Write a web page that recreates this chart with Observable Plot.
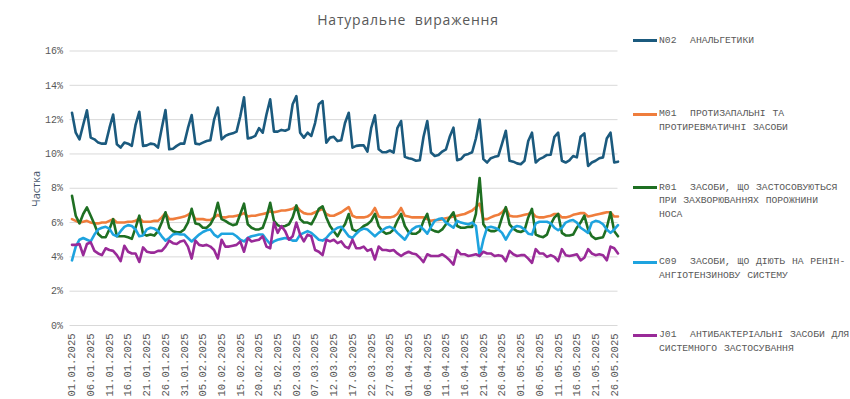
<!DOCTYPE html>
<html><head><meta charset="utf-8">
<script src="https://cdn.jsdelivr.net/npm/d3@7"></script>
<script src="https://cdn.jsdelivr.net/npm/@observablehq/plot@0.6"></script>
<style>
body{margin:0;background:#fff;}
#wrap{position:relative;width:850px;height:399px;overflow:hidden;}
#chart{position:absolute;left:0;top:0;}
#title{position:absolute;left:258px;width:300px;top:10px;text-align:center;font:14px "Open Sans",sans-serif;letter-spacing:0.8px;word-spacing:4px;color:#595959;}
#ylab{position:absolute;left:35px;top:189px;transform:translate(-50%,-50%) rotate(-90deg);font:11px "Open Sans",sans-serif;color:#44546a;white-space:nowrap;}
.sw{position:absolute;left:633px;width:24px;height:3px;}
.tx{position:absolute;left:659px;font:9.7px "Liberation Mono",monospace;line-height:13.6px;color:#595959;white-space:pre;word-spacing:1px;}
</style></head>
<body>
<div id="wrap">
  <div id="chart"></div>
  <div id="title">Натуральне вираження</div>
  <div id="ylab">Частка</div>
  <div id="legend"></div>
</div>
<script>
const startDate = "2025-01-01";
const xTickLabels = ["01.01.2025","06.01.2025","11.01.2025","16.01.2025","21.01.2025","26.01.2025","31.01.2025","05.02.2025","10.02.2025","15.02.2025","20.02.2025","25.02.2025","02.03.2025","07.03.2025","12.03.2025","17.03.2025","22.03.2025","27.03.2025","01.04.2025","06.04.2025","11.04.2025","16.04.2025","21.04.2025","26.04.2025","01.05.2025","06.05.2025","11.05.2025","16.05.2025","21.05.2025","26.05.2025"];
const yTicks = [0,2,4,6,8,10,12,14,16];
const seriesNames = ["N02  АНАЛЬГЕТИКИ","M01  ПРОТИЗАПАЛЬНІ ТА\nПРОТИРЕВМАТИЧНІ ЗАСОБИ","R01  ЗАСОБИ, ЩО ЗАСТОСОВУЮТЬСЯ\nПРИ ЗАХВОРЮВАННЯХ ПОРОЖНИНИ\nНОСА","C09  ЗАСОБИ, ЩО ДІЮТЬ НА РЕНІН-\nАНГІОТЕНЗИНОВУ СИСТЕМУ","J01  АНТИБАКТЕРІАЛЬНІ ЗАСОБИ ДЛЯ\nСИСТЕМНОГО ЗАСТОСУВАННЯ"];
const seriesColors = ["#1b5a7e","#ef7d3c","#1e6f22","#1ea3df","#992a98"];

const n02 = [
12.4,11.24,10.85,11.7,12.54,10.95,10.85,
10.66,10.6,10.6,11.5,12.3,10.56,10.37,
10.66,10.6,10.47,11.7,12.46,10.47,10.5,
10.6,10.56,10.37,11.5,12.56,10.27,10.3,
10.47,10.6,10.6,11.5,12.27,10.6,10.56,
10.66,10.75,10.8,12.0,12.7,10.85,11.05,
11.15,11.2,11.3,12.2,13.3,10.9,10.95,
11.05,11.5,11.24,12.3,13.18,11.3,11.3,
11.4,11.35,11.45,12.9,13.37,11.24,10.95,
11.24,11.05,11.8,12.9,13.08,10.66,10.95,
11.0,10.75,10.8,11.8,12.4,10.37,10.47,
10.5,10.5,10.14,11.5,12.25,10.27,10.1,
10.1,10.2,10.08,11.5,11.92,9.83,9.75,
9.7,9.6,9.63,11.0,11.92,10.08,9.88,
9.94,10.14,10.27,11.0,11.53,9.63,9.7,
9.94,10.0,10.1,10.9,12.0,9.7,9.5,
9.75,9.83,9.88,10.6,11.35,9.6,9.55,
9.45,9.4,9.6,10.75,11.24,9.5,9.7,
9.8,9.94,9.95,11.0,11.24,9.6,9.5,
9.63,9.88,9.8,11.0,11.2,9.3,9.5,
9.6,9.75,9.8,10.9,11.24,9.5,9.55];

const m01 = [
6.2,6.1,6.0,6.05,6.1,6.0,5.95,
5.95,6.0,6.0,6.1,6.2,6.0,6.0,
6.0,6.05,6.05,6.1,6.25,6.05,6.05,
6.05,6.1,6.1,6.3,6.55,6.2,6.2,
6.25,6.3,6.35,6.45,6.6,6.2,6.2,
6.2,6.15,6.15,6.3,6.45,6.3,6.3,
6.35,6.35,6.4,6.45,6.55,6.35,6.4,
6.4,6.45,6.5,6.55,6.65,6.6,6.65,
6.7,6.7,6.75,6.8,6.95,6.7,6.55,
6.5,6.5,6.6,6.7,6.8,6.5,6.4,
6.4,6.5,6.6,6.75,6.9,6.4,6.3,
6.3,6.3,6.35,6.5,6.85,6.35,6.3,
6.3,6.3,6.35,6.5,6.85,6.4,6.35,
6.3,6.3,6.3,6.3,6.2,6.1,6.15,
6.15,6.2,6.25,6.3,6.35,6.4,6.45,
6.5,6.6,6.7,6.9,7.1,6.2,6.2,
6.3,6.4,6.45,6.6,6.85,6.4,6.35,
6.35,6.4,6.45,6.5,6.6,6.35,6.3,
6.3,6.35,6.4,6.5,6.5,6.3,6.3,
6.35,6.45,6.5,6.55,6.55,6.35,6.4,
6.45,6.5,6.55,6.6,6.6,6.35,6.35];

const r01 = [
7.56,6.4,5.95,6.5,6.88,6.4,5.9,
5.33,5.14,5.14,5.6,6.2,5.2,5.2,
5.2,5.14,5.05,5.7,6.4,5.33,5.24,
5.3,5.24,5.5,6.0,6.6,5.7,5.5,
5.43,5.43,5.6,6.0,6.8,5.95,5.9,
5.7,5.7,5.9,6.3,7.15,6.2,6.1,
5.95,5.85,5.9,6.5,7.1,5.9,5.7,
5.6,5.6,5.7,6.3,7.15,6.1,5.85,
5.75,5.8,5.9,6.3,7.0,6.2,6.0,
6.0,5.9,6.3,6.8,6.95,6.3,5.8,
5.5,5.2,5.6,5.9,6.5,5.6,5.5,
5.6,5.8,5.9,6.1,6.5,5.8,5.5,
5.35,5.4,5.6,6.1,6.5,5.8,5.45,
5.35,5.35,5.5,6.1,6.5,5.6,5.5,
5.45,5.6,5.9,6.3,6.6,5.8,5.7,
5.7,5.75,5.75,6.5,8.6,5.9,5.6,
5.5,5.5,5.6,6.3,6.9,5.9,5.65,
5.5,5.45,5.55,6.3,6.8,5.3,5.2,
5.15,5.3,5.9,6.3,6.5,5.4,5.25,
5.25,5.3,5.7,6.0,6.4,5.6,5.2,
5.05,5.1,5.15,5.7,6.6,5.5,5.2];

const c09 = [
3.8,4.6,5.0,5.1,5.0,4.9,5.3,
5.6,5.7,5.75,5.65,5.3,5.2,5.5,
5.75,5.85,5.8,5.6,5.2,5.25,5.6,
5.7,5.65,5.5,5.2,4.95,5.1,5.3,
5.35,5.3,5.3,5.1,4.9,5.1,5.3,
5.45,5.55,5.6,5.3,5.15,5.35,5.35,
5.35,5.35,5.2,5.0,4.9,5.1,5.2,
5.25,5.3,5.3,5.0,4.75,4.9,5.0,
5.05,5.1,5.05,4.95,4.95,5.3,5.4,
5.5,5.4,5.2,5.0,4.95,5.1,5.35,
5.55,5.7,5.75,5.5,5.2,5.1,5.35,
5.55,5.65,5.6,5.4,5.2,5.4,5.55,
5.7,5.75,5.65,5.4,5.2,5.0,5.35,
5.6,5.75,5.8,5.6,5.35,5.75,6.1,
6.2,6.25,6.0,5.85,5.7,6.1,6.0,
5.95,5.9,6.0,5.8,4.05,5.0,5.7,
5.75,5.7,5.6,5.4,5.0,5.4,5.7,
5.8,5.75,5.6,5.35,5.3,5.95,6.05,
6.05,6.05,5.95,5.7,5.55,5.7,6.0,
6.1,6.15,6.0,5.7,5.55,5.4,6.0,
6.1,6.05,5.9,5.6,5.4,5.6,5.85];

const j01 = [
4.7,4.7,4.75,4.1,4.75,4.85,4.35,
4.2,4.1,4.5,4.4,4.35,4.1,3.75,
4.65,4.3,4.2,4.2,3.7,4.55,4.3,
4.25,4.25,4.35,4.35,4.6,4.95,4.8,
4.75,4.9,4.95,4.6,3.9,4.95,4.7,
4.65,4.7,4.6,4.4,3.9,5.0,4.6,
4.6,4.65,4.7,4.9,4.3,5.1,4.9,
4.95,5.0,5.2,4.6,4.5,6.0,5.4,
5.8,5.5,5.0,5.2,6.0,5.3,4.9,
5.3,5.2,4.4,4.3,4.1,5.0,4.9,
5.0,4.8,4.9,4.6,4.5,5.0,4.5,
4.5,4.6,4.35,4.45,3.85,4.6,4.4,
4.4,4.35,4.4,4.2,4.05,4.2,4.3,
4.2,4.15,3.95,3.7,4.15,4.05,4.05,
4.05,4.15,4.0,3.8,3.55,4.4,4.15,
4.15,4.05,4.1,4.15,4.05,4.3,4.2,
4.2,4.05,4.1,4.05,3.75,4.35,4.15,
4.05,4.1,4.1,3.9,3.65,4.45,4.2,
4.2,4.0,4.1,4.0,3.75,4.45,4.1,
4.05,4.1,4.15,3.8,3.95,4.45,4.2,
4.1,4.15,4.1,3.8,4.6,4.5,4.2];

const allSeries = [n02, m01, r01, c09, j01];
const keys = ["N02","M01","R01","C09","J01"];
const start = d3.utcParse("%Y-%m-%d")(startDate);
const dates = n02.map((_, i) => d3.utcDay.offset(start, i));
const rows = keys.flatMap((k, s) => allSeries[s].map((v, i) => ({key: k, date: dates[i], v})));
const parseTick = d3.utcParse("%d.%m.%Y");
const tickDates = xTickLabels.map(parseTick);

const chart = Plot.plot({
  width: 850, height: 399,
  marginLeft: 71.5, marginRight: 232.5, marginTop: 50.5, marginBottom: 74,
  x: {type: "utc", domain: [dates[0], dates[dates.length - 1]]},
  y: {domain: [0, 16]},
  color: {domain: keys, range: seriesColors},
  marks: [
    Plot.gridY(yTicks, {stroke: "#d9d9d9", strokeOpacity: 1, strokeWidth: 1, x1: dates[0], x2: dates[dates.length-1], insetLeft: -2}),
    Plot.axisY(yTicks, {tickSize: 0, tickPadding: 9, tickFormat: d => d + "%", fontSize: 10, fontFamily: "Liberation Mono", fill: "#595959", label: null}),
    Plot.axisX(tickDates, {tickSize: 0, tickPadding: 8, tickRotate: -90, tickFormat: d3.utcFormat("%d.%m.%Y"), fontSize: 10.5, fontFamily: "Liberation Mono", fill: "#595959", label: null}),
    Plot.line(rows, {x: "date", y: "v", z: "key", stroke: "key", strokeWidth: 2.6, strokeLinejoin: "round", strokeLinecap: "round"})
  ]
});
document.getElementById("chart").appendChild(chart);

const centers = [40.7, 114, 187.7, 262, 335];
const legend = document.getElementById("legend");
seriesNames.forEach((name, i) => {
  const sw = document.createElement("div");
  sw.className = "sw";
  sw.style.top = (centers[i] - 1.5) + "px";
  sw.style.background = seriesColors[i];
  legend.appendChild(sw);
  const tx = document.createElement("div");
  tx.className = "tx";
  tx.style.top = (centers[i] - 6.8) + "px";
  tx.textContent = name;
  legend.appendChild(tx);
});
</script>
</body></html>
